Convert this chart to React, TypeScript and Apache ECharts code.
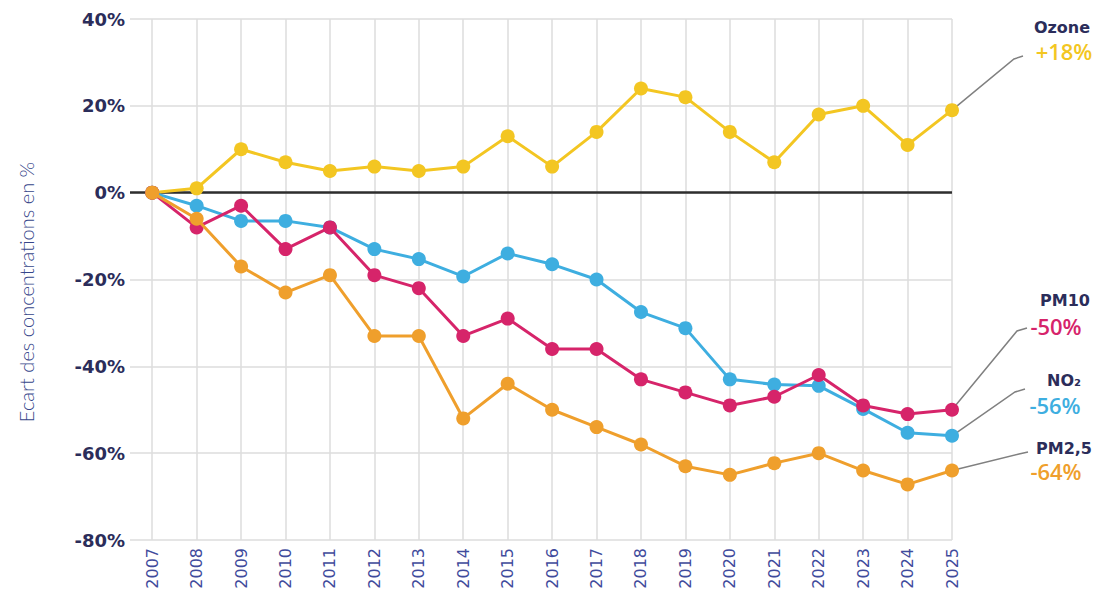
import React, { useEffect, useRef } from "react";
import * as echarts from "echarts";

const years = [2007, 2008, 2009, 2010, 2011, 2012, 2013, 2014, 2015, 2016, 2017, 2018, 2019, 2020, 2021, 2022, 2023, 2024, 2025];
const ozone = [0, 1, 10, 7, 5, 6, 5, 6, 13, 6, 14, 24, 22, 14, 7, 18, 20, 11, 19];
const no2 = [0, -3, -6.5, -6.5, -8, -13, -15.3, -19.3, -14, -16.5, -20, -27.5, -31.2, -43, -44.2, -44.5, -49.8, -55.3, -56];
const pm10 = [0, -8, -3, -13, -8, -19, -22, -33, -29, -36, -36, -43, -46, -49, -47, -42, -49, -51, -50];
const pm25 = [0, -6, -17, -23, -19, -33, -33, -52, -44, -50, -54, -58, -63, -65, -62.3, -60, -64, -67.2, -64];
const yTicks = [-80, -60, -40, -20, 0, 20, 40];
const seriesNames = ["Ozone", "NO₂", "PM10", "PM2,5"];
const endValues = ["+18%", "-56%", "-50%", "-64%"];
const axisName = "Ecart des concentrations en %";

const colors = ["#f3c622", "#3eaee0", "#d6246a", "#ef9f2c"];
const NAVY = "#2b2d5a";

// layout of the right-hand annotations (name, value, leader line bend)
const annot = [
  { nameX: 1062, nameY: 27, valX: 1064, valY: 51, bend: [1014, 59], end: [1023, 56] },
  { nameX: 1064, nameY: 380, valX: 1055, valY: 405, bend: [1015, 392], end: [1025, 389] },
  { nameX: 1065, nameY: 300, valX: 1056, valY: 326, bend: [1017, 331], end: [1027, 328] },
  { nameX: 1064, nameY: 448, valX: 1056, valY: 471, bend: [1019, 454], end: [1028, 452] },
];

export default function App() {
  const ref = useRef<HTMLDivElement>(null);
  useEffect(() => {
    if (!ref.current) return;
    const chart = echarts.init(ref.current, null, { renderer: "svg" });
    const seriesData = [ozone, no2, pm10, pm25];
    const series: any[] = seriesData.map((vals, i) => ({
      name: seriesNames[i],
      type: "line",
      data: years.map((y, k) => [y, vals[k]]),
      symbol: "circle",
      symbolSize: 14,
      lineStyle: { width: 3, color: colors[i] },
      itemStyle: { color: colors[i] },
      z: 3 + i,
    }));
    series[0].markLine = {
      silent: true,
      symbol: ["none", "none"],
      label: { show: false },
      lineStyle: { color: "#2e2e2e", width: 2.5, type: "solid" },
      data: [{ yAxis: 0 }],
      z: 2,
    };
    chart.setOption({
      animation: false,
      backgroundColor: "#ffffff",
      grid: { left: 130, right: 144, top: 19, bottom: 53 },
      xAxis: {
        type: "value",
        min: 2006.5,
        max: 2025,
        axisLine: { show: false },
        axisTick: { show: false, customValues: years },
        axisLabel: {
          customValues: years,
          rotate: 90,
          margin: 8,
          color: "#3f4b9c",
          fontFamily: "DejaVu Sans",
          fontSize: 16,
          formatter: (v: number) => String(v),
        },
        splitLine: { show: true, lineStyle: { color: "#dcdcdc", width: 1.5 } },
      },
      yAxis: {
        type: "value",
        min: -80,
        max: 40,
        interval: 20,
        axisLine: { show: false },
        axisTick: { show: false },
        axisLabel: {
          customValues: yTicks,
          margin: 5,
          color: NAVY,
          fontFamily: "DejaVu Sans",
          fontWeight: "bold",
          fontSize: 18,
          formatter: (v: number) => `${v}%`,
        },
        splitLine: { show: true, lineStyle: { color: "#dcdcdc", width: 1.5 } },
      },
      series,
    });

    const graphics: any[] = [
      {
        type: "text",
        x: 26,
        y: 292,
        rotation: Math.PI / 2,
        style: {
          text: axisName,
          fill: "#36468a",
          font: "300 20px Lato",
          textAlign: "center",
          textVerticalAlign: "middle",
        },
      },
    ];
    seriesData.forEach((vals, i) => {
      const last = vals.length - 1;
      const p = chart.convertToPixel({ gridIndex: 0 }, [years[last], vals[last]]) as number[];
      const a = annot[i];
      graphics.push({
        type: "polyline",
        shape: { points: [p, a.bend, a.end] },
        style: { stroke: "#808080", lineWidth: 1.5, fill: "none" },
        z: 1,
      });
      graphics.push({
        type: "text",
        x: a.nameX,
        y: a.nameY,
        style: {
          text: seriesNames[i],
          fill: NAVY,
          font: "bold 16px 'DejaVu Sans'",
          textAlign: "center",
          textVerticalAlign: "middle",
        },
      });
      graphics.push({
        type: "text",
        x: a.valX,
        y: a.valY,
        style: {
          text: endValues[i],
          fill: colors[i],
          font: "600 22px 'Open Sans'",
          textAlign: "center",
          textVerticalAlign: "middle",
        },
      });
    });
    chart.setOption({ graphic: graphics });
    return () => chart.dispose();
  }, []);
  return (
    <div
      ref={ref}
      style={{ position: "fixed", left: 0, top: 0, width: 1096, height: 593, background: "#fff" }}
    />
  );
}
